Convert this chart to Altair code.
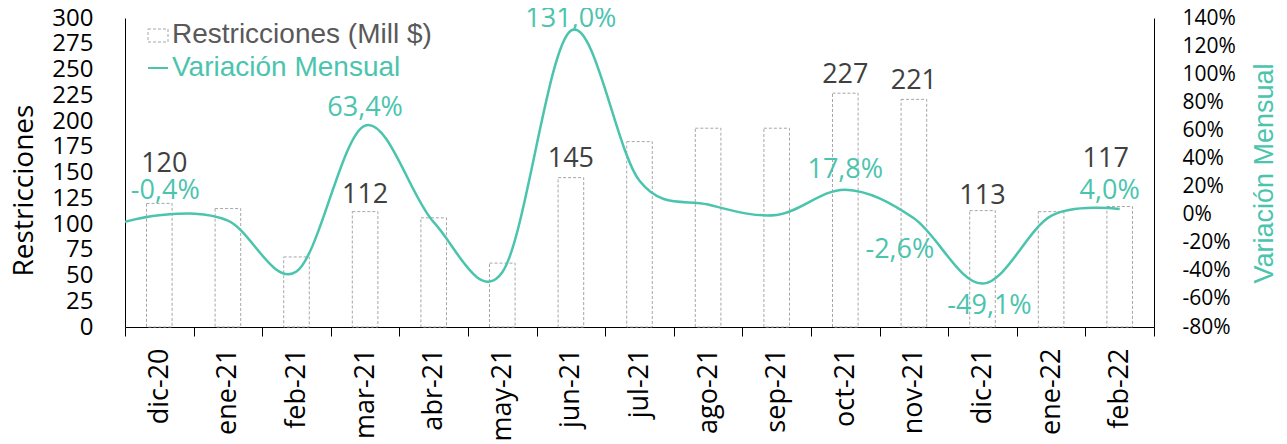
import altair as alt
import pandas as pd

# ---------------- data ----------------
months = ["dic-20", "ene-21", "feb-21", "mar-21", "abr-21", "may-21", "jun-21",
          "jul-21", "ago-21", "sep-21", "oct-21", "nov-21", "dic-21", "ene-22", "feb-22"]
restricciones = [120, 115, 68, 112, 106, 62, 145, 180, 193, 193, 227, 221, 113, 112, 117]

# monthly variation (%); the line also enters from the previous month (nov-20)
line_months = ["nov-20"] + months
variacion = [-12.0, -0.4, -4.2, -40.5, 63.4, -5.4, -41.0, 131.0, 24.1, 7.2, -0.2,
             17.8, -2.6, -49.1, -0.9, 4.0]

# which points carry a data label, and where that label sits (pixel offsets dx, dy)
bar_label_offsets = {"dic-20": (5, -39), "mar-21": (0, -17), "jun-21": (0, -19),
                     "oct-21": (0, -18), "nov-21": (0, -18), "dic-21": (0, -15),
                     "feb-22": (-14, -47)}
var_label_offsets = {"dic-20": (6, -24), "mar-21": (0, -18), "jun-21": (0, -12),
                     "oct-21": (0, -20), "nov-21": (-14, 32), "dic-21": (7, 22),
                     "feb-22": (-10, -18)}

left_ticks = list(range(0, 301, 25))
right_ticks = list(range(-80, 141, 20))

TEAL = "#4BC4AE"
GRAY_BAR = "#A6A6A6"
LBL = "Open Sans"

df_bar = pd.DataFrame({"mes": months, "rest": restricciones})
df_bar["rest_label"] = df_bar["rest"].astype(str)

df_line = pd.DataFrame({"mes": line_months, "var": variacion})
df_line["pos"] = [i - 0.5 for i in range(len(line_months))]
df_line["var_label"] = df_line["var"].map(lambda v: f"{v:.1f}".replace(".", ",") + "%")

# ---------------- scales ----------------
sx_bar = alt.Scale(domain=months, paddingInner=0, paddingOuter=0)
sy_bar = alt.Scale(domain=[0, 300], nice=False, zero=True)
sx_line = alt.Scale(domain=[0, 15], nice=False, zero=False)
sy_line = alt.Scale(domain=[-80, 140], nice=False, zero=False)

x_bar = alt.X("mes:N", sort=months, title=None, scale=sx_bar,
              axis=alt.Axis(orient="bottom", labelAngle=-90, tickBand="extent", tickSize=9,
                            tickColor="black", domainColor="black",
                            labelFont=LBL, labelFontSize=27, labelColor="black",
                            labelPadding=12, grid=False))
x_bar_na = alt.X("mes:N", sort=months, scale=sx_bar, axis=None)
y_bar = alt.Y("rest:Q", scale=sy_bar,
              axis=alt.Axis(orient="left", values=left_ticks, tickSize=0, labelPadding=32,
                            domainColor="black", grid=False,
                            labelFont=LBL, labelFontSize=24, labelColor="black",
                            labelFlush=False, labelOverlap=False,
                            title="Restricciones", titleFont=LBL, titleFontSize=28,
                            titleFontWeight="normal", titleColor="black",
                            titleAngle=270, titleAlign="center", titleBaseline="middle",
                            titleX=-101, titleY=172))
y_bar_na = alt.Y("rest:Q", scale=sy_bar, axis=None)

x_line = alt.X("pos:Q", scale=sx_line, axis=None)
y_line = alt.Y("var:Q", scale=sy_line,
               axis=alt.Axis(orient="right", values=right_ticks, tickSize=0,
                             labelPadding=28, domainColor="black", grid=False,
                             labelExpr="datum.value + '%'",
                             labelFont=LBL, labelFontSize=21, labelColor="black",
                             labelFlush=False, labelOverlap=False,
                             title="Variación Mensual", titleFont="Liberation Sans",
                             titleFontSize=27, titleFontWeight="normal", titleColor=TEAL,
                             titleAngle=270, titleAlign="center", titleBaseline="middle",
                             titleX=110, titleY=155))
y_line_na = alt.Y("var:Q", scale=sy_line, axis=None)

# ---------------- bars ----------------
base_bar = alt.Chart(df_bar)
bars = base_bar.mark_bar(width=alt.RelativeBandSize(0.373), fill="white",
                         stroke=GRAY_BAR, strokeDash=[3, 2], strokeWidth=1).encode(
    x=x_bar, y=y_bar)

bar_texts = [
    base_bar.transform_filter(alt.datum.mes == m)
    .mark_text(font=LBL, fontSize=27, color="#404040", dx=dx, dy=dy, baseline="middle")
    .encode(x=x_bar_na, y=y_bar_na, text="rest_label:N")
    for m, (dx, dy) in bar_label_offsets.items()
]

# ---------------- line ----------------
base_line = alt.Chart(df_line)
line = base_line.mark_line(interpolate="cardinal", color=TEAL, strokeWidth=2.5,
                           clip=True).encode(x=x_line, y=y_line)

var_texts = [
    base_line.transform_filter(alt.datum.mes == m)
    .mark_text(font=LBL, fontSize=27, color=TEAL, dx=dx, dy=dy, baseline="middle")
    .encode(x=x_line, y=y_line_na, text="var_label:N")
    for m, (dx, dy) in var_label_offsets.items()
]

# ---------------- legend (manual) ----------------
one = alt.Chart(pd.DataFrame({"k": [0]}))
leg_box = one.mark_rect(fill="white", stroke=GRAY_BAR, strokeDash=[3, 2], strokeWidth=1).encode(
    x=alt.value(23), x2=alt.value(43), y=alt.value(11), y2=alt.value(24))
leg_txt1 = one.mark_text(font="Liberation Sans", fontSize=28, color="#595959", align="left",
                         baseline="middle").encode(
    x=alt.value(47), y=alt.value(17), text=alt.value("Restricciones (Mill $)"))
leg_line = one.mark_rule(color=TEAL, strokeWidth=2).encode(
    x=alt.value(23), x2=alt.value(43), y=alt.value(50))
leg_txt2 = one.mark_text(font="Liberation Sans", fontSize=28, color=TEAL, align="left",
                         baseline="middle").encode(
    x=alt.value(47), y=alt.value(50), text=alt.value("Variación Mensual"))

chart = alt.layer(
    bars, *bar_texts, line, *var_texts,
    leg_box, leg_txt1, leg_line, leg_txt2,
).resolve_scale(
    x="independent", y="independent"
).properties(
    width=1029, height=309,
    autosize=alt.AutoSizeParams(type="none"),
    padding={"left": 117, "top": 10, "right": 125, "bottom": 117},
).configure_view(stroke=None)

chart.save("out.html", embed_options={"renderer": "svg", "actions": False})
